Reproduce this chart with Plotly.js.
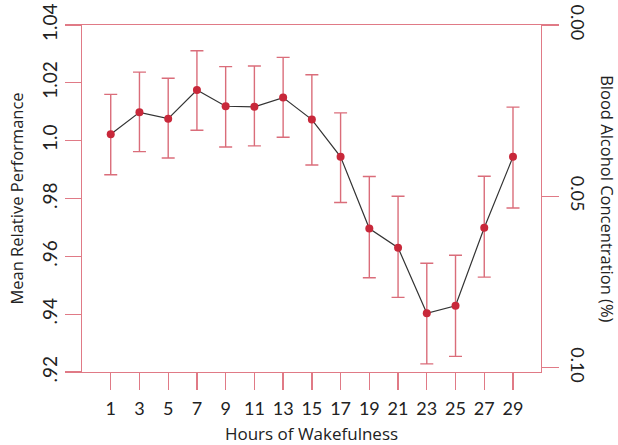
<!DOCTYPE html>
<html>
<head>
<meta charset="utf-8">
<script src="https://cdn.plot.ly/plotly-3.0.1.min.js"></script>
<style>html,body{margin:0;padding:0;background:#fff;}#chart{width:618px;height:445px;}</style>
</head>
<body>
<div id="chart"></div>
<script>
const hours = [1, 3, 5, 7, 9, 11, 13, 15, 17, 19, 21, 23, 25, 27, 29];
const performance = [1.0022, 1.0098, 1.0076, 1.0175, 1.0119, 1.0117, 1.0149, 1.0073, 0.9944, 0.9696, 0.9630, 0.9403, 0.9429, 0.9699, 0.9944];
const upperBound = [1.0160, 1.0237, 1.0216, 1.0311, 1.0256, 1.0258, 1.0288, 1.0228, 1.0096, 0.9876, 0.9808, 0.9576, 0.9604, 0.9877, 1.0116];
const lowerBound = [0.9882, 0.9962, 0.9940, 1.0036, 0.9978, 0.9982, 1.0012, 0.9916, 0.9786, 0.9526, 0.9458, 0.9228, 0.9254, 0.9528, 0.9767];
const yTickVals = [0.92, 0.94, 0.96, 0.98, 1.00, 1.02, 1.04];
const yTickText = ['.92', '.94', '.96', '.98', '1.0', '1.02', '1.04'];
const bacTickVals = [0.00, 0.05, 0.10];
const bacTickText = ['0.00', '0.05', '0.10'];

const errPlus = performance.map((v, i) => upperBound[i] - v);
const errMinus = performance.map((v, i) => v - lowerBound[i]);

const axisColor = '#e07a86';
const tickFam = 'Lato, "Open Sans", sans-serif';
const titleFam = '"Open Sans", Lato, sans-serif';

const traces = [
  {
    x: hours, y: performance, type: 'scatter', mode: 'lines+markers',
    line: {color: '#333333', width: 1.2},
    marker: {color: '#c8283a', size: 8},
    error_y: {type: 'data', symmetric: false, array: errPlus, arrayminus: errMinus,
              color: 'rgba(205,60,78,0.75)', thickness: 1.4, width: 6.5},
    hoverinfo: 'skip', showlegend: false
  },
  {
    x: [hours[0]], y: [0.05], yaxis: 'y2', type: 'scatter', mode: 'markers',
    marker: {opacity: 0}, hoverinfo: 'skip', showlegend: false
  }
];

const layout = {
  width: 618, height: 445,
  margin: {l: 82, r: 77, t: 25, b: 73},
  paper_bgcolor: '#fff', plot_bgcolor: '#fff',
  font: {family: tickFam, size: 17, color: '#222'},
  showlegend: false,
  xaxis: {
    range: [-1.0, 30.95], tickvals: hours, ticktext: hours.map(String),
    ticks: 'outside', ticklen: 17, tickwidth: 1.3, tickcolor: axisColor,
    showline: true, linecolor: axisColor, linewidth: 1.3, mirror: true,
    showgrid: false, zeroline: false,
    tickfont: {family: tickFam, size: 18, color: '#222'},
    ticklabelstandoff: 3,
    title: {text: 'Hours of Wakefulness', font: {family: titleFam, size: 17, color: '#222'}, standoff: 11}
  },
  yaxis: {
    range: [0.92, 1.04], tickvals: yTickVals, ticktext: yTickText,
    ticks: 'outside', ticklen: 16, tickwidth: 1.3, tickcolor: axisColor,
    showline: true, linecolor: axisColor, linewidth: 1.3,
    showgrid: false, zeroline: false, tickangle: -90,
    tickfont: {family: tickFam, size: 19, color: '#222'},
    ticklabelstandoff: 0,
    title: {text: 'Mean Relative Performance', font: {family: titleFam, size: 16.5, color: '#222'}, standoff: 10}
  },
  yaxis2: {
    overlaying: 'y', side: 'right',
    range: [0.10125, 0.0], tickvals: bacTickVals, ticktext: bacTickText,
    ticks: 'outside', ticklen: 17, tickwidth: 1.3, tickcolor: axisColor,
    showline: true, linecolor: axisColor, linewidth: 1.3,
    showgrid: false, zeroline: false, tickangle: 90,
    tickfont: {family: tickFam, size: 18, color: '#222'},
    ticklabelstandoff: 5
  },
  annotations: [{
    text: 'Blood Alcohol Concentration (%)', xref: 'paper', yref: 'paper',
    x: 1.1445, y: 0.5, xanchor: 'center', yanchor: 'middle', showarrow: false,
    textangle: 90, font: {family: titleFam, size: 16.5, color: '#222'}
  }]
};

Plotly.newPlot('chart', traces, layout, {displayModeBar: false, staticPlot: true});
</script>
</body>
</html>
